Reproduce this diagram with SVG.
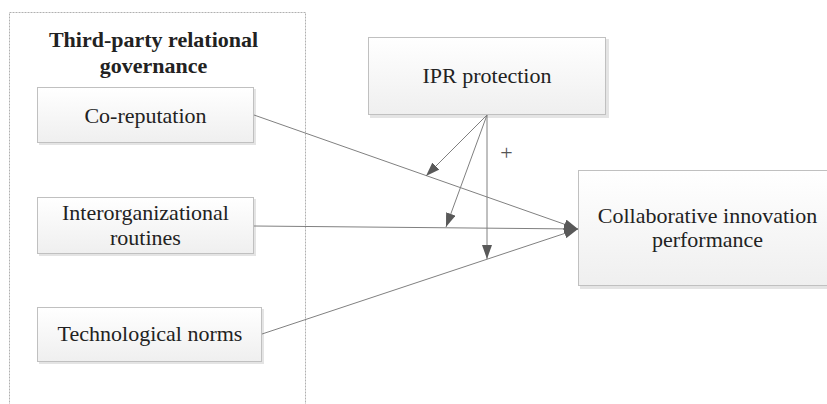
<svg xmlns="http://www.w3.org/2000/svg" width="827" height="404" viewBox="0 0 827 404">
<defs>
<linearGradient id="g" x1="0" y1="0" x2="0" y2="1">
<stop offset="0" stop-color="#ffffff"/>
<stop offset="1" stop-color="#efefef"/>
</linearGradient>
<marker id="ah" viewBox="0 0 14 10" refX="14" refY="5" markerWidth="14" markerHeight="10" markerUnits="userSpaceOnUse" orient="auto">
<path d="M0,0 L14,5 L0,10 Z" fill="#595959"/>
</marker>
</defs>
<style>
.box{fill:url(#g);stroke:#c0c0c0;stroke-width:1}
.sh{fill:#e4e4e4}
text{font-family:"Liberation Serif","Times New Roman",serif;fill:#222}
.t{font-size:22px;text-anchor:middle}
.b{font-weight:bold}
.m{stroke:#808080;stroke-width:1;fill:none;marker-end:url(#ah)}
.p{font-size:22px;fill:#555;text-anchor:middle}
</style>
<rect width="827" height="404" fill="#ffffff"/>
<g id="group">
<rect x="9.5" y="12.5" width="296" height="400" fill="none" stroke="#b0b0b0" stroke-width="1" stroke-dasharray="2,1"/>
<text class="t b" x="153.5" y="46.5" font-family="Liberation Serif, serif">Third-party relational</text>
<text class="t b" x="153.5" y="72.5" font-family="Liberation Serif, serif">governance</text>
</g>
<g id="coreputation">
<rect class="sh" x="39" y="89" width="217" height="56"/>
<rect class="box" x="37.5" y="87.5" width="216" height="55"/>
<text class="t" x="145.5" y="122.5" font-family="Liberation Serif, serif">Co-reputation</text>
</g>
<g id="routines">
<rect class="sh" x="39" y="199" width="217" height="57"/>
<rect class="box" x="37.5" y="197.5" width="216" height="56"/>
<text class="t" x="145.5" y="220" font-family="Liberation Serif, serif">Interorganizational</text>
<text class="t" x="145.5" y="245" font-family="Liberation Serif, serif">routines</text>
</g>
<g id="norms">
<rect class="sh" x="39" y="309" width="225" height="55"/>
<rect class="box" x="37.5" y="307.5" width="224" height="54"/>
<text class="t" x="150" y="341" font-family="Liberation Serif, serif">Technological norms</text>
</g>
<g id="ipr">
<rect class="sh" x="370" y="39" width="239" height="79"/>
<rect class="box" x="368.5" y="37.5" width="237" height="77"/>
<text class="t" x="487" y="83" font-family="Liberation Serif, serif">IPR protection</text>
</g>
<g id="performance">
<rect class="sh" x="580" y="172" width="260" height="117"/>
<rect class="box" x="578.5" y="170.5" width="260" height="115"/>
<text class="t" x="707.5" y="223" font-family="Liberation Serif, serif">Collaborative innovation</text>
<text class="t" x="707.5" y="247" font-family="Liberation Serif, serif">performance</text>
</g>
<g id="connectors">
<line class="m" x1="254" y1="115" x2="578" y2="229"/>
<line class="m" x1="254" y1="226" x2="578" y2="229"/>
<line class="m" x1="262" y1="334" x2="578" y2="229"/>
<line class="m" x1="487" y1="115" x2="426" y2="176"/>
<line class="m" x1="487" y1="115" x2="446" y2="227"/>
<line class="m" x1="487" y1="115" x2="487" y2="259"/>
<text class="p" x="506.5" y="159.5" font-family="Liberation Serif, serif">+</text>
</g>
</svg>
